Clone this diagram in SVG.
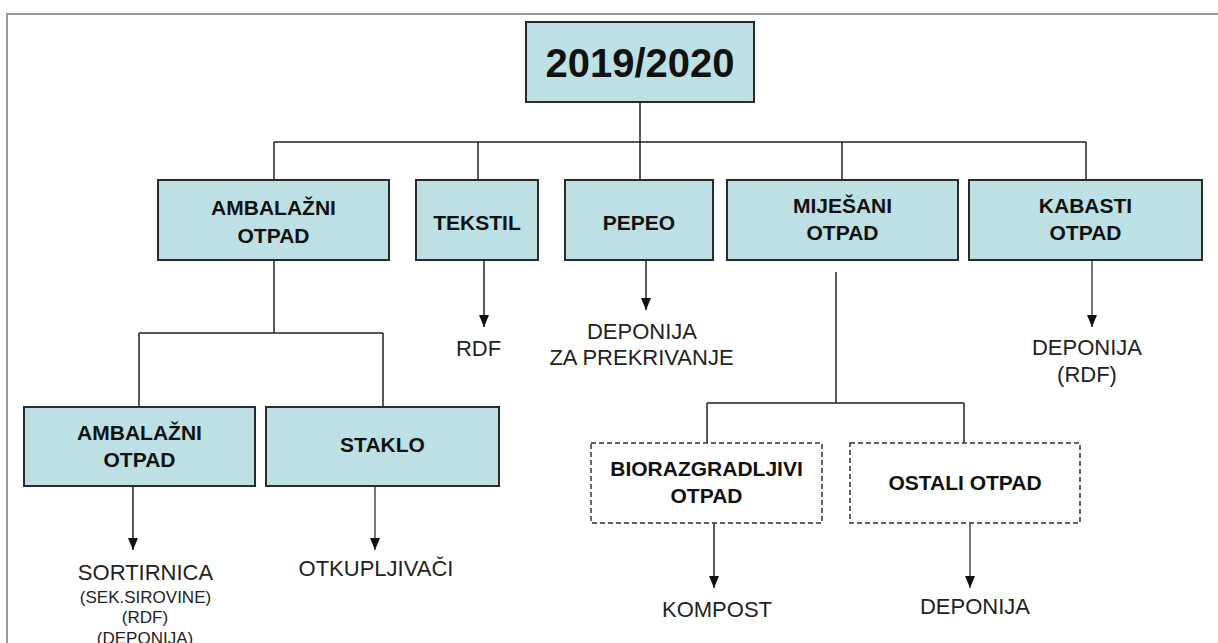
<svg xmlns="http://www.w3.org/2000/svg" width="1218" height="643" viewBox="0 0 1218 643">
<style>
.box{fill:#BCE0E3;stroke:#2a2a2a;stroke-width:2}
.dbox{fill:#fff;stroke:#333;stroke-width:1.5;stroke-dasharray:5 3}
.b{font-family:"Liberation Sans",Arial,sans-serif;font-weight:bold;font-size:21px;fill:#111;text-anchor:middle}
.t{font-family:"Liberation Sans",Arial,sans-serif;font-size:22px;fill:#222;text-anchor:middle}
.s{font-family:"Liberation Sans",Arial,sans-serif;font-size:17px;fill:#222;text-anchor:middle}
.c{fill:none;stroke:#222;stroke-width:1.5}
.g{fill:none;stroke:#777;stroke-width:2}
</style>
<defs>
<marker id="ah" viewBox="0 0 12 10" refX="12" refY="5" markerWidth="12" markerHeight="10" markerUnits="userSpaceOnUse" orient="auto">
<path d="M0,0 L12,5 L0,10 Z" fill="#111"/>
</marker>
</defs>
<rect width="1218" height="643" fill="#fff"/>
<path d="M7,643 V14 H1218" fill="none" stroke="#999" stroke-width="2"/>
<g id="connectors">
<path class="c" d="M640,102 V180 M274,142 H1086 M274,142 V180 M478,142 V180 M842,142 V180 M1086,142 V180"/>
<path class="c" d="M274,260 V333 M139,333 H383 M139,333 V407 M383,333 V407"/>
<path class="c" d="M836,272 V403 M707,403 H964 M707,403 V443 M964,403 V443"/>
<line class="c" x1="484" y1="260" x2="484" y2="327" marker-end="url(#ah)"/>
<line class="c" x1="646" y1="260" x2="646" y2="310" marker-end="url(#ah)"/>
<line class="g" x1="1092" y1="260" x2="1092" y2="327" marker-end="url(#ah)"/>
<line class="c" x1="133" y1="486" x2="133" y2="550" marker-end="url(#ah)"/>
<line class="g" x1="375" y1="486" x2="375" y2="550" marker-end="url(#ah)"/>
<line class="c" x1="714" y1="523" x2="714" y2="588" marker-end="url(#ah)"/>
<line class="g" x1="970" y1="523" x2="970" y2="588" marker-end="url(#ah)"/>
</g>
<g id="n-root">
<rect class="box" x="526" y="22" width="228" height="80"/>
<text class="b" x="640" y="77" style="font-size:40px">2019/2020</text>
</g>
<g id="n-ambalazni">
<rect class="box" x="158" y="180" width="231" height="80"/>
<text class="b" x="273.5" y="215">AMBALAŽNI</text>
<text class="b" x="273.5" y="243">OTPAD</text>
</g>
<g id="n-tekstil">
<rect class="box" x="416" y="180" width="122" height="80"/>
<text class="b" x="477" y="230">TEKSTIL</text>
</g>
<g id="n-pepeo">
<rect class="box" x="565" y="180" width="148" height="80"/>
<text class="b" x="639" y="230">PEPEO</text>
</g>
<g id="n-mijesani">
<rect class="box" x="727" y="180" width="231" height="80"/>
<text class="b" x="842.5" y="213">MIJEŠANI</text>
<text class="b" x="842.5" y="240">OTPAD</text>
</g>
<g id="n-kabasti">
<rect class="box" x="969" y="180" width="233" height="80"/>
<text class="b" x="1085.5" y="213">KABASTI</text>
<text class="b" x="1085.5" y="240">OTPAD</text>
</g>
<g id="n-ambalazni2">
<rect class="box" x="24" y="407" width="231" height="79"/>
<text class="b" x="139.5" y="440">AMBALAŽNI</text>
<text class="b" x="139.5" y="467">OTPAD</text>
</g>
<g id="n-staklo">
<rect class="box" x="266" y="407" width="233" height="79"/>
<text class="b" x="382.5" y="452">STAKLO</text>
</g>
<g id="n-bio">
<rect class="dbox" x="591" y="443" width="231" height="80"/>
<text class="b" x="706.5" y="476">BIORAZGRADLJIVI</text>
<text class="b" x="706.5" y="503">OTPAD</text>
</g>
<g id="n-ostali">
<rect class="dbox" x="850" y="443" width="230" height="80"/>
<text class="b" x="965" y="490">OSTALI OTPAD</text>
</g>
<g id="labels">
<text class="t" x="478.5" y="356">RDF</text>
<text class="t" x="642" y="339">DEPONIJA</text>
<text class="t" x="641.5" y="365">ZA PREKRIVANJE</text>
<text class="t" x="1087" y="355">DEPONIJA</text>
<text class="t" x="1087" y="382">(RDF)</text>
<text class="t" x="145.5" y="580">SORTIRNICA</text>
<text class="s" x="145.5" y="603">(SEK.SIROVINE)</text>
<text class="s" x="145" y="623">(RDF)</text>
<text class="s" x="145" y="644">(DEPONIJA)</text>
<text class="t" x="376" y="576">OTKUPLJIVAČI</text>
<text class="t" x="717" y="617">KOMPOST</text>
<text class="t" x="975" y="614">DEPONIJA</text>
</g>
</svg>
